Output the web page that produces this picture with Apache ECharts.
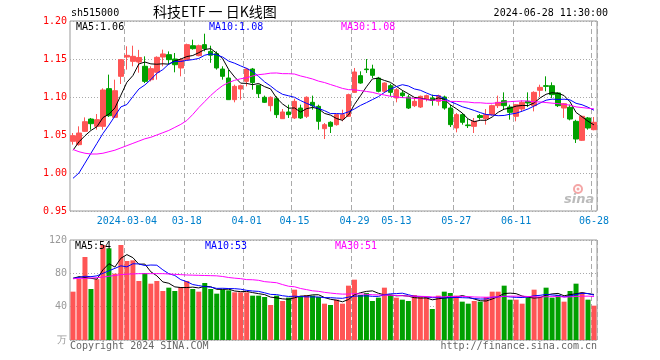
<!DOCTYPE html>
<html>
<head>
<meta charset="utf-8">
<script src="https://cdn.jsdelivr.net/npm/echarts@6/dist/echarts.min.js"></script>
<style>html,body{margin:0;padding:0;background:#fff}#c{width:660px;height:360px}</style>
</head>
<body>
<div id="c"></div>
<script>
const dates = [
'2024-02-20','2024-02-21','2024-02-22','2024-02-23','2024-02-26','2024-02-27','2024-02-28','2024-02-29',
'2024-03-01','2024-03-04','2024-03-05','2024-03-06','2024-03-07','2024-03-08','2024-03-11','2024-03-12','2024-03-13','2024-03-14','2024-03-15','2024-03-18','2024-03-19','2024-03-20','2024-03-21','2024-03-22','2024-03-25','2024-03-26','2024-03-27','2024-03-28','2024-03-29',
'2024-04-01','2024-04-02','2024-04-03','2024-04-08','2024-04-09','2024-04-10','2024-04-11','2024-04-12','2024-04-15','2024-04-16','2024-04-17','2024-04-18','2024-04-19','2024-04-22','2024-04-23','2024-04-24','2024-04-25','2024-04-26','2024-04-29','2024-04-30',
'2024-05-06','2024-05-07','2024-05-08','2024-05-09','2024-05-10','2024-05-13','2024-05-14','2024-05-15','2024-05-16','2024-05-17','2024-05-20','2024-05-21','2024-05-22','2024-05-23','2024-05-24','2024-05-27','2024-05-28','2024-05-29','2024-05-30','2024-05-31',
'2024-06-03','2024-06-04','2024-06-05','2024-06-06','2024-06-07','2024-06-11','2024-06-12','2024-06-13','2024-06-14','2024-06-17','2024-06-18','2024-06-19','2024-06-20','2024-06-21','2024-06-24','2024-06-25','2024-06-26','2024-06-27','2024-06-28'
];
const opens = [1.0417,1.0373,1.0548,1.0710,1.0614,1.0614,1.1110,1.0732,1.1272,1.1526,1.1469,1.1460,1.1404,1.1228,1.1325,1.1526,1.1557,1.1500,1.1382,1.1491,1.1675,1.1544,1.1689,1.1600,1.1570,1.1368,1.1250,1.0965,1.1105,1.1206,1.1368,1.1154,1.0996,1.0886,1.0978,1.0715,1.0803,1.0724,1.0855,1.0746,1.0930,1.0877,1.0583,1.0667,1.0636,1.0710,1.0746,1.1061,1.1281,1.1368,1.1368,1.1250,1.1075,1.1149,1.0987,1.1053,1.1000,1.0886,1.0868,1.0974,1.0987,1.0943,1.1000,1.0855,1.0592,1.0768,1.0632,1.0614,1.0755,1.0715,1.0768,1.0886,1.0952,1.0868,1.0746,1.0842,1.0943,1.0886,1.1088,1.1149,1.1149,1.1053,1.0855,1.0864,1.0680,1.0430,1.0724,1.0570];
const closes = [1.0491,1.0526,1.0675,1.0649,1.0702,1.1092,1.0754,1.1083,1.1491,1.1548,1.1535,1.1520,1.1206,1.1373,1.1522,1.1566,1.1491,1.1425,1.1491,1.1689,1.1636,1.1675,1.1636,1.1550,1.1382,1.1272,1.0965,1.1140,1.1149,1.1368,1.1190,1.1044,1.0930,1.0996,1.0768,1.0803,1.0768,1.0943,1.0724,1.0996,1.0886,1.0680,1.0636,1.0614,1.0768,1.0768,1.1031,1.1329,1.1184,1.1360,1.1285,1.1075,1.1184,1.1061,1.1096,1.1018,1.0855,1.0943,1.1009,1.1018,1.0956,1.1018,1.0855,1.0636,1.0768,1.0667,1.0623,1.0680,1.0730,1.0768,1.0886,1.0930,1.0886,1.0798,1.0899,1.0930,1.0921,1.1061,1.1127,1.1140,1.1031,1.0886,1.0912,1.0710,1.0447,1.0746,1.0592,1.0667];
const lows = [1.0373,1.0360,1.0540,1.0570,1.0570,1.0570,1.0737,1.0724,1.1171,1.1360,1.1404,1.1320,1.1184,1.1206,1.1228,1.1404,1.1425,1.1325,1.1272,1.1491,1.1623,1.1535,1.1601,1.1450,1.1360,1.1228,1.0965,1.0930,1.0965,1.1140,1.1096,1.0987,1.0921,1.0811,1.0724,1.0711,1.0724,1.0711,1.0711,1.0724,1.0833,1.0570,1.0447,1.0526,1.0623,1.0680,1.0737,1.1053,1.1175,1.1316,1.1250,1.1061,1.1053,1.1009,1.0930,1.0987,1.0842,1.0868,1.0855,1.0943,1.0886,1.0886,1.0833,1.0605,1.0535,1.0636,1.0592,1.0526,1.0702,1.0636,1.0755,1.0855,1.0842,1.0702,1.0680,1.0811,1.0868,1.0811,1.1000,1.1075,1.0987,1.0868,1.0724,1.0693,1.0395,1.0421,1.0570,1.0562];
const highs = [1.0526,1.0614,1.0732,1.0724,1.0776,1.1114,1.1294,1.1228,1.1500,1.1667,1.1675,1.1620,1.1535,1.1404,1.1535,1.1623,1.1600,1.1579,1.1513,1.1702,1.1754,1.1689,1.1833,1.1675,1.1600,1.1404,1.1360,1.1162,1.1162,1.1382,1.1382,1.1162,1.1018,1.1009,1.1009,1.0842,1.0899,1.0978,1.0899,1.1009,1.1018,1.0899,1.0658,1.0680,1.0776,1.0833,1.1044,1.1382,1.1338,1.1500,1.1425,1.1265,1.1193,1.1175,1.1118,1.1088,1.1031,1.1000,1.1018,1.1031,1.1031,1.1031,1.1018,1.0899,1.0790,1.0790,1.0710,1.0724,1.0776,1.0842,1.0899,1.1018,1.1061,1.0899,1.0908,1.0956,1.1061,1.1075,1.1162,1.1272,1.1193,1.1061,1.0921,1.0899,1.0700,1.0754,1.0737,1.0737];
const volumes = [58,73.2,99.6,61.2,73,114,110,79.6,114,94.8,95.6,70.8,80.4,67.6,70.8,58.8,62.8,58.8,63.6,70.8,61.2,58,68.4,61.2,55.6,60.4,59.6,57.2,57.2,57.2,53.2,53.2,51.6,42,53.2,46.8,50.8,60.4,52.4,54,53.2,51.6,43.6,42,48.4,43.6,65.2,72.4,54,56.4,46.8,50.8,62.8,54,50.8,48.4,46.8,54,51.6,51.6,37.2,53.2,58,56.4,53.2,46,43.6,46.8,46,51.6,58,58,65.2,48.4,48.4,43.6,50.8,60.4,51.6,62.8,50.8,54,46,58.8,67.6,57.2,48.4,41.2];
const ma5Lead = [1.030,1.041,1.049,1.056];
const ma10Lead = [0.993,1.000,1.013,1.026,1.039,1.052,1.063,1.075,1.087];
const ma30Lead = [1.031,1.028,1.026,1.025,1.025,1.026,1.028,1.030,1.033,1.036,1.039,1.042,1.045,1.047,1.050,1.053,1.056,1.060,1.064,1.069,1.077,1.086,1.094,1.102,1.109,1.115,1.119,1.122,1.124];
const volMa5Lead = [74,76,75,74];
const volMa10Lead = [74,75,76.5,76,77,80,83,86,89];
const volMa30Lead = [73.5,74,74,74.3,74.8,75.5,76.5,77.5,78.5,79,79.3,79.6,79.6,79.6,79.6,79.6,79.2,78.8,78.4,78,77.8,77.6,77.4,77.2,77,76.2,75,74.2,73.6];
const tickLabels = {'2024-03-04':'2024-03-04','2024-03-18':'03-18','2024-04-01':'04-01','2024-04-15':'04-15','2024-04-29':'04-29','2024-05-13':'05-13','2024-05-27':'05-27','2024-06-11':'06-11','2024-06-28':'06-28'};
const priceTicks = [0.95, 1.20, 0.05];
const volTicks = [0, 120, 40];
const headerTexts = {code:'sh515000', title:'科技ETF 一 日K线图', time:'2024-06-28 11:30:00',
  ma5:'MA5:1.06', ma10:'MA10:1.08', ma30:'MA30:1.08', vma5:'MA5:54', vma10:'MA10:53', vma30:'MA30:51',
  copy:'Copyright 2024 SINA.COM', url:'http://finance.sina.com.cn', unit:'万', logo:'sina'};

function movingAvg(vals, n, lead) {
  return vals.map((v, i) => {
    if (i < lead.length) return lead[i];
    let s = 0; for (let j = i - n + 1; j <= i; j++) s += vals[j];
    return +(s / n).toFixed(4);
  });
}
const RED = '#ff5555', GREEN = '#00a000';
const MONO = 'DejaVu Sans Mono';
const isTick = (i) => tickLabels[dates[i]] !== undefined;
const candleData = dates.map((d, i) => [opens[i], closes[i], lows[i], highs[i]]);
const volData = volumes.map((v, i) => ({value: v, itemStyle: {color: closes[i] >= opens[i] ? RED : GREEN}}));
const GL = 70, GW = 527;
const dash = {color: '#aaa', width: 1, type: [5, 3]};
const dot = {color: '#aaa', width: 1, type: [1, 2]};

const chart = echarts.init(document.getElementById('c'), null, {renderer: 'canvas'});
const lineS = (name, data, color, xi, yi) => ({type: 'line', name, data, xAxisIndex: xi, yAxisIndex: yi,
  symbol: 'none', smooth: false, lineStyle: {color, width: 1}, z: 5, silent: true});
chart.setOption({
  animation: false,
  backgroundColor: '#fff',
  grid: [
    {left: GL, top: 21, width: GW, height: 190, show: true, borderColor: '#999', borderWidth: 1},
    {left: GL, top: 240, width: GW, height: 100, show: true, borderColor: '#999', borderWidth: 1}
  ],
  xAxis: [
    {type: 'category', gridIndex: 0, data: dates, boundaryGap: true,
     axisLine: {show: false}, axisTick: {show: false},
     axisLabel: {interval: (i) => isTick(i), formatter: (v) => tickLabels[v] || '', color: '#0080cc',
       fontFamily: MONO, fontSize: 10, margin: 5},
     splitLine: {show: true, interval: (i) => isTick(i), lineStyle: dash}},
    {type: 'category', gridIndex: 1, data: dates, boundaryGap: true,
     axisLine: {show: false}, axisTick: {show: false}, axisLabel: {show: false},
     splitLine: {show: true, interval: (i) => isTick(i), lineStyle: dash}}
  ],
  yAxis: [
    {type: 'value', gridIndex: 0, min: priceTicks[0], max: priceTicks[1], interval: priceTicks[2],
     axisLine: {show: false}, axisTick: {show: false},
     axisLabel: {color: '#ff0000', fontFamily: MONO, fontSize: 10, margin: 3, formatter: (v) => v.toFixed(2)},
     splitLine: {show: true, lineStyle: dot}},
    {type: 'value', gridIndex: 1, min: volTicks[0], max: volTicks[1], interval: volTicks[2],
     axisLine: {show: false}, axisTick: {show: false},
     axisLabel: {color: '#999', fontFamily: MONO, fontSize: 10, margin: 3,
       formatter: (v) => v === 0 ? headerTexts.unit : String(v)},
     splitLine: {show: true, lineStyle: dot}}
  ],
  series: [
    {type: 'candlestick', data: candleData, xAxisIndex: 0, yAxisIndex: 0, barWidth: 5, z: 3,
     itemStyle: {color: RED, color0: GREEN, borderColor: RED, borderColor0: GREEN, borderWidth: 1}},
    lineS('MA5', movingAvg(closes, 5, ma5Lead), '#000000', 0, 0),
    lineS('MA10', movingAvg(closes, 10, ma10Lead), '#0000ff', 0, 0),
    lineS('MA30', movingAvg(closes, 30, ma30Lead), '#ff00ff', 0, 0),
    {type: 'bar', data: volData, xAxisIndex: 1, yAxisIndex: 1, barWidth: 5, z: 3},
    lineS('VMA5', movingAvg(volumes, 5, volMa5Lead), '#000000', 1, 1),
    lineS('VMA10', movingAvg(volumes, 10, volMa10Lead), '#0000ff', 1, 1),
    lineS('VMA30', movingAvg(volumes, 30, volMa30Lead), '#ff00ff', 1, 1)
  ],
  graphic: [
    {type: 'text', left: 71, top: 8, style: {text: headerTexts.code, fill: '#000', font: '10px "DejaVu Sans Mono"'}},
    {type: 'text', left: 153, top: 5, style: {text: headerTexts.title, fill: '#000', font: '14px "Noto Sans CJK SC"'}},
    {type: 'text', right: 52, top: 8, style: {text: headerTexts.time, fill: '#000', font: '10px "DejaVu Sans Mono"'}},
    {type: 'text', left: 76, top: 22, z: 10, style: {text: headerTexts.ma5, fill: '#000', font: '10px "DejaVu Sans Mono"'}},
    {type: 'text', left: 209, top: 22, z: 10, style: {text: headerTexts.ma10, fill: '#0000ff', font: '10px "DejaVu Sans Mono"'}},
    {type: 'text', left: 341, top: 22, z: 10, style: {text: headerTexts.ma30, fill: '#ff00ff', font: '10px "DejaVu Sans Mono"'}},
    {type: 'text', left: 75, top: 241, z: 10, style: {text: headerTexts.vma5, fill: '#000', font: '10px "DejaVu Sans Mono"'}},
    {type: 'text', left: 205, top: 241, z: 10, style: {text: headerTexts.vma10, fill: '#0000ff', font: '10px "DejaVu Sans Mono"'}},
    {type: 'text', left: 335, top: 241, z: 10, style: {text: headerTexts.vma30, fill: '#ff00ff', font: '10px "DejaVu Sans Mono"'}},
    {type: 'text', left: 70, top: 341, style: {text: headerTexts.copy, fill: '#666', font: '10px "DejaVu Sans Mono"'}},
    {type: 'text', right: 63, top: 341, style: {text: headerTexts.url, fill: '#666', font: '10px "DejaVu Sans Mono"'}},
    {type: 'circle', shape: {cx: 578, cy: 189, r: 4}, style: {fill: 'none', stroke: '#f4a6a6', lineWidth: 2}, z: 1},
    {type: 'circle', shape: {cx: 578, cy: 189, r: 1.5}, style: {fill: '#f4a6a6'}, z: 1},
    {type: 'text', left: 564, top: 193, z: 1, style: {text: headerTexts.logo, fill: '#bbb', font: 'italic bold 13px "DejaVu Sans"'}}
  ]
});
</script>
</body>
</html>
